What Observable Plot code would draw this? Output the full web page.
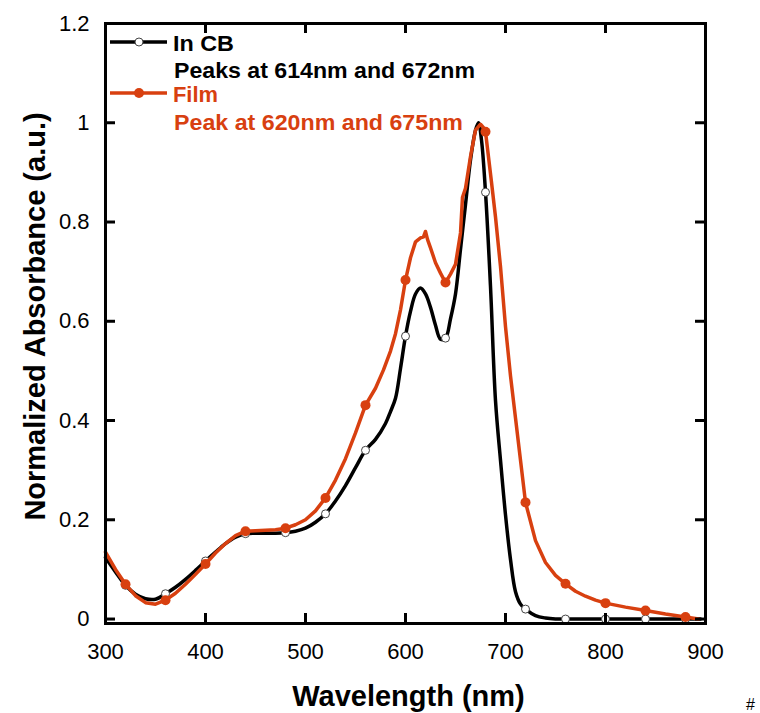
<!DOCTYPE html>
<html><head><meta charset="utf-8">
<script src="https://cdn.jsdelivr.net/npm/d3@7"></script>
<script src="https://cdn.jsdelivr.net/npm/@observablehq/plot@0.6"></script>
<style>body{margin:0;background:#fff;}</style>
</head><body><div id="chart"></div>
<script>
// In CB (solution in chlorobenzene)
const cbWavelength = [300,310,320,330,340,350,360,370,380,390,400,410,420,430,440,450,460,470,480,490,500,510,520,530,540,550,560,570,580,585,590,595,600,605,610,615,620,625,630,635,640,645,650,655,660,665,670,673,676,680,685,690,695,700,705,710,715,720,730,740,750,760,780,800,820,840,860,880,895];
const cbAbsorbance = [0.124,0.095,0.068,0.050,0.041,0.040,0.051,0.064,0.080,0.098,0.117,0.135,0.152,0.165,0.172,0.173,0.173,0.173,0.174,0.177,0.183,0.195,0.212,0.238,0.269,0.305,0.340,0.362,0.394,0.418,0.445,0.505,0.570,0.620,0.655,0.667,0.655,0.628,0.592,0.564,0.566,0.605,0.655,0.745,0.835,0.925,0.985,1.000,0.965,0.860,0.670,0.440,0.320,0.210,0.120,0.055,0.030,0.020,0.007,0.002,0.000,0,0,0,0,0,0,0,0];
// Film
const filmWavelength = [300,310,320,330,340,350,360,370,380,390,400,410,420,430,440,450,460,470,480,490,500,510,520,530,540,550,560,570,578,585,590,595,600,605,610,615,618,620,622,625,630,635,640,645,650,655,657,660,665,670,675,678,680,686,690,695,700,705,710,715,720,730,740,750,760,770,780,790,800,820,840,860,880,893];
const filmAbsorbance = [0.135,0.100,0.070,0.047,0.033,0.030,0.038,0.052,0.070,0.090,0.111,0.133,0.152,0.168,0.177,0.178,0.179,0.180,0.183,0.190,0.200,0.218,0.244,0.280,0.323,0.375,0.431,0.465,0.502,0.540,0.575,0.623,0.683,0.728,0.760,0.768,0.770,0.781,0.765,0.748,0.718,0.697,0.678,0.695,0.715,0.778,0.850,0.868,0.932,0.985,0.997,0.990,0.982,0.880,0.810,0.710,0.589,0.490,0.405,0.320,0.235,0.158,0.114,0.088,0.071,0.056,0.046,0.038,0.032,0.024,0.017,0.010,0.004,0.000];
const markerWavelengths = [320,360,400,440,480,520,560,600,640,680,720,760,800,840,880];
const xTicks = [300,400,500,600,700,800,900];
const yTicks = [0,0.2,0.4,0.6,0.8,1,1.2];
const seriesNames = ["In CB","Film"];
const seriesNotes = ["Peaks at 614nm and 672nm","Peak at 620nm and 675nm"];
const xTitle = "Wavelength (nm)";
const yTitle = "Normalized Absorbance (a.u.)";

const RED = "#d84010";
const cb = cbWavelength.map((w,i)=>({w, a: cbAbsorbance[i]}));
const film = filmWavelength.map((w,i)=>({w, a: filmAbsorbance[i]}));
const cbMarks = cb.filter(d => markerWavelengths.includes(d.w));
const filmMarks = film.filter(d => markerWavelengths.includes(d.w));
const fmt = d => String(+d.toFixed(1));

const plot = Plot.plot({
  width: 760, height: 713,
  marginLeft: 105, marginRight: 55, marginTop: 23, marginBottom: 90,
  style: {fontFamily: "'Liberation Sans', Arial, sans-serif", fontSize: "22px", background: "#fff", overflow: "visible"},
  x: {domain: [300, 900]},
  y: {domain: [-0.009, 1.2]},
  marks: [
    Plot.line(cb, {x: "w", y: "a", stroke: "#000", strokeWidth: 3.5, curve: "catmull-rom"}),
    Plot.dot(cbMarks, {x: "w", y: "a", r: 4, fill: "#fff", stroke: "#444", strokeWidth: 1}),
    Plot.line(film, {x: "w", y: "a", stroke: RED, strokeWidth: 3.5, curve: "linear"}),
    Plot.dot(filmMarks, {x: "w", y: "a", r: 5, fill: RED}),
    Plot.frame({stroke: "#000", strokeWidth: 3}),
    Plot.tickY(yTicks, {y: d => d, insetRight: 590, stroke: "#000", strokeWidth: 3}),
    Plot.tickY(yTicks, {y: d => d, insetLeft: 590, stroke: "#000", strokeWidth: 3}),
    Plot.tickX(xTicks, {x: d => d, insetTop: 590, stroke: "#000", strokeWidth: 3}),
    Plot.tickX(xTicks, {x: d => d, insetBottom: 590, stroke: "#000", strokeWidth: 3}),
    Plot.axisY(yTicks, {tickSize: 0, tickPadding: 16, tickFormat: fmt, fontSize: 22, label: null}),
    Plot.axisX(xTicks, {tickSize: 0, tickPadding: 20, tickFormat: d => String(d), fontSize: 22, label: null}),
    Plot.text([xTitle], {frameAnchor: "bottom", textAnchor: "middle", dx: 3, dy: 82, fontSize: 29, fontWeight: "bold", lineAnchor: "bottom"}),
    Plot.text([yTitle], {frameAnchor: "left", textAnchor: "middle", dx: -61, dy: -7, rotate: -90, fontSize: 29, fontWeight: "bold", lineAnchor: "bottom"}),
    Plot.text(["#"], {frameAnchor: "bottom-right", textAnchor: "middle", dx: 45, dy: 86, fontSize: 16, lineAnchor: "bottom"})
  ]
});

// Legend
const svg = d3.select(plot);
const g = svg.append("g").attr("font-family", "'Liberation Sans', Arial, sans-serif")
  .attr("font-weight", "bold").attr("font-size", 22).attr("text-anchor", "start");
const legendRows = [
  {color: "#000", lineY: 42, nameY: 50.5, noteY: 77.5, nameLen: 61, noteLen: 301, open: true},
  {color: RED, lineY: 93, nameY: 102, noteY: 130, nameLen: 45, noteLen: 289, open: false}
];
legendRows.forEach((r, i) => {
  g.append("line").attr("x1", 110).attr("x2", 167).attr("y1", r.lineY).attr("y2", r.lineY)
    .attr("stroke", r.color).attr("stroke-width", 3.5);
  g.append("circle").attr("cx", 139).attr("cy", r.lineY).attr("r", r.open ? 4 : 5)
    .attr("fill", r.open ? "#fff" : r.color).attr("stroke", r.open ? "#444" : "none").attr("stroke-width", 1);
  g.append("text").attr("x", 173).attr("y", r.nameY).attr("fill", r.color)
    .attr("textLength", r.nameLen).attr("lengthAdjust", "spacingAndGlyphs").text(seriesNames[i]);
  g.append("text").attr("x", 174).attr("y", r.noteY).attr("fill", r.color)
    .attr("textLength", r.noteLen).attr("lengthAdjust", "spacingAndGlyphs").text(seriesNotes[i]);
});

document.getElementById("chart").appendChild(plot);
</script>
</body></html>
